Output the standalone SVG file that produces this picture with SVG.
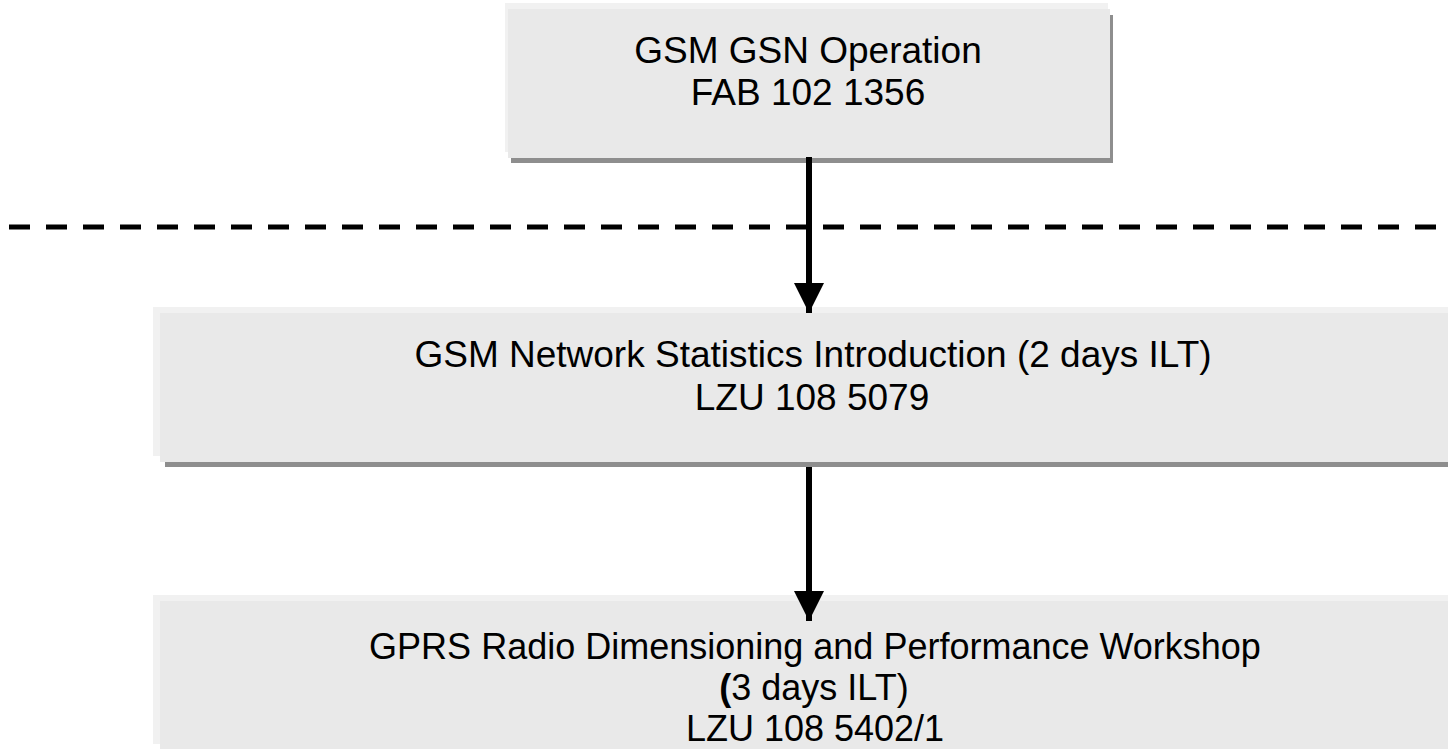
<svg xmlns="http://www.w3.org/2000/svg" width="1448" height="749" viewBox="0 0 1448 749">
<defs>
<style>
.hl{fill:#f1f1f1}
.bx{fill:#e9e9e9}
.sh{fill:#8e8e8e}
.t{font-family:"Liberation Sans",Arial,sans-serif;font-size:37px;fill:#000;text-anchor:middle}
.s{font-size:36px}
.cn{stroke:#000;stroke-width:6;fill:none}
</style>
<marker id="ah" markerUnits="userSpaceOnUse" markerWidth="30" markerHeight="31" refX="30" refY="15" orient="auto" viewBox="0 0 30 30">
<path d="M0,0 L30,15 L0,30 Z" fill="#000"/>
</marker>
</defs>
<rect width="1448" height="749" fill="#fff"/>
<g id="n1">
<rect class="hl" x="505" y="3" width="603" height="149"/>
<rect class="sh" x="511" y="15" width="602" height="148"/>
<rect class="bx" x="508" y="9" width="602" height="149"/>
<text class="t" x="808" y="63">GSM GSN Operation</text>
<text class="t" x="808" y="105">FAB 102 1356</text>
</g>
<g id="n2">
<rect class="hl" x="153" y="307" width="1300" height="149"/>
<rect class="sh" x="165" y="319" width="1300" height="148"/>
<rect class="bx" x="160" y="313" width="1300" height="149"/>
<text class="t" x="813" y="367">GSM Network Statistics Introduction (2 days ILT)</text>
<text class="t" x="812" y="410">LZU 108 5079</text>
</g>
<g id="n3">
<rect class="hl" x="153" y="595" width="1300" height="149"/>
<rect class="bx" x="160" y="601" width="1300" height="160"/>
<text class="t s" x="815" y="659">GPRS Radio Dimensioning and Performance Workshop</text>
<text class="t s" x="814" y="700"><tspan font-weight="bold">(</tspan>3 days ILT)</text>
<text class="t s" x="815" y="741">LZU 108 5402/1</text>
</g>
<g id="connectors">
<line x1="9" y1="227" x2="1448" y2="227" stroke="#000" stroke-width="5" stroke-dasharray="21 16"/>
<line class="cn" x1="809" y1="157" x2="809" y2="313" marker-end="url(#ah)"/>
<line class="cn" x1="809" y1="467" x2="809" y2="621" marker-end="url(#ah)"/>
</g>
</svg>
